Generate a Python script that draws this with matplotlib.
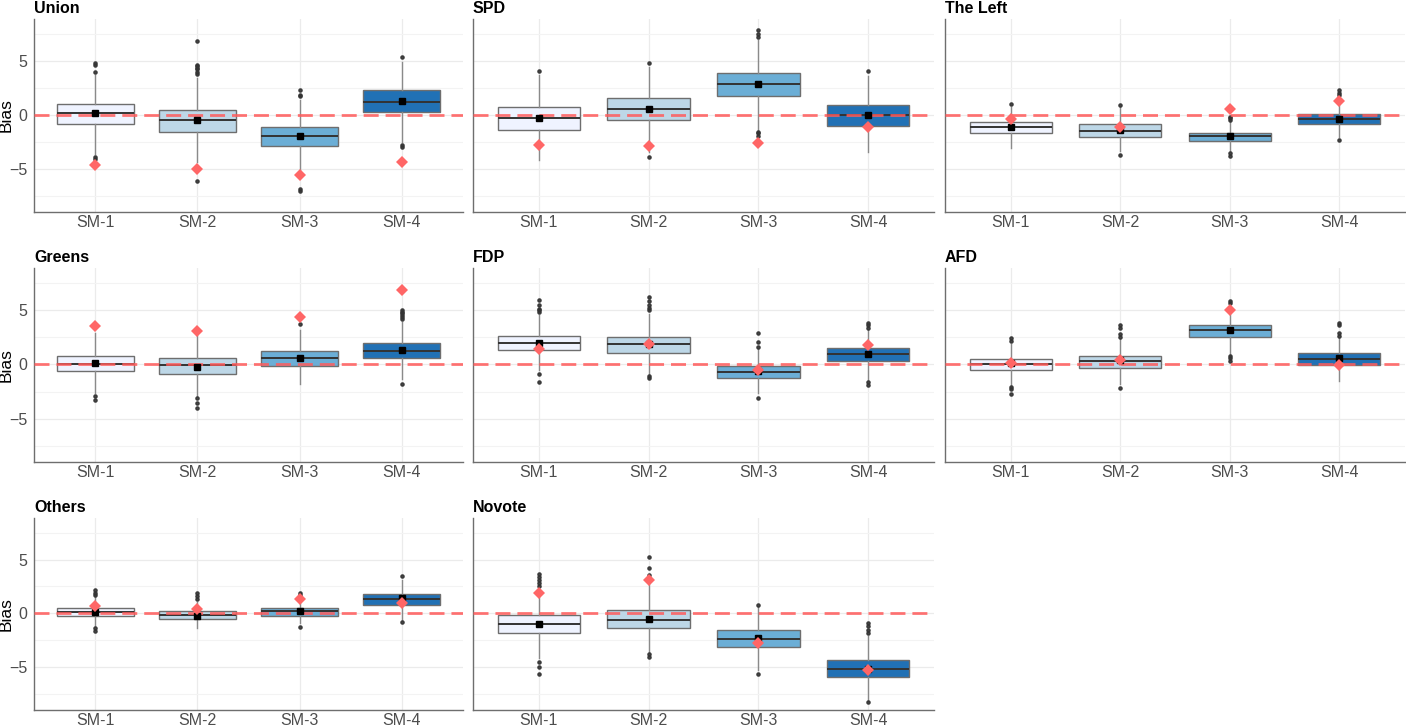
import numpy as np
import matplotlib
matplotlib.use("Agg")
import matplotlib.pyplot as plt

plt.rcParams['font.family'] = ['Liberation Sans', 'DejaVu Sans']

parties = ["Union", "SPD", "The Left", "Greens", "FDP", "AFD", "Others", "Novote"]
models = ["SM-1", "SM-2", "SM-3", "SM-4"]
fills = ["#eff3ff", "#bdd7e7", "#6baed6", "#2171b5"]

# box statistics, one row per party, one column per model
q1 = [[-0.86, -1.59, -2.90, 0.25],
      [-1.40, -0.49, 1.74, -0.98],
      [-1.68, -1.99, -2.42, -0.86],
      [-0.64, -0.86, -0.15, 0.61],
      [1.29, 1.07, -1.23, 0.28],
      [-0.52, -0.31, 2.52, -0.03],
      [-0.22, -0.52, -0.19, 0.80],
      [-1.85, -1.36, -3.12, -5.86]]
med = [[0.15, -0.43, -1.96, 1.16],
       [-0.30, 0.52, 2.90, -0.03],
       [-1.13, -1.44, -1.96, -0.40],
       [0.03, -0.09, 0.61, 1.26],
       [1.93, 1.84, -0.67, 0.92],
       [0.00, 0.31, 3.19, 0.46],
       [0.12, -0.15, 0.19, 1.33],
       [-0.96, -0.62, -2.35, -5.12]]
q3 = [[1.04, 0.43, -1.07, 2.26],
      [0.77, 1.56, 3.91, 0.95],
      [-0.67, -0.86, -1.68, 0.06],
      [0.77, 0.61, 1.20, 1.96],
      [2.60, 2.50, -0.12, 1.50],
      [0.49, 0.80, 3.65, 1.01],
      [0.49, 0.19, 0.49, 1.82],
      [-0.12, 0.31, -1.54, -4.32]]
whis_lo = [[-3.6, -4.3, -5.2, -2.5],
           [-4.2, -3.4, -1.4, -3.46],
           [-3.03, -3.3, -3.3, -2.0],
           [-2.6, -2.9, -1.78, -1.3],
           [-0.5, -0.9, -2.6, -1.4],
           [-1.9, -1.8, 0.9, -1.5],
           [-1.2, -1.39, -0.9, -0.6],
           [-4.1, -3.6, -5.2, -8.1]]
whis_hi = [[3.7, 3.4, 1.4, 4.9],
           [3.7, 4.4, 6.9, 3.6],
           [0.7, 0.75, -0.6, 1.4],
           [2.9, 2.7, 3.16, 3.9],
           [4.5, 4.6, 1.4, 3.2],
           [1.9, 2.3, 5.3, 2.4],
           [1.5, 1.1, 1.5, 3.1],
           [2.3, 3.2, 0.6, -2.1]]
means = [[0.20, -0.49, -1.90, 1.31],
         [-0.25, 0.58, 2.90, 0.03],
         [-1.13, -1.35, -1.96, -0.34],
         [0.09, -0.21, 0.61, 1.32],
         [2.00, 1.90, -0.61, 0.95],
         [0.09, 0.37, 3.16, 0.55],
         [0.15, -0.22, 0.25, 1.42],
         [-0.96, -0.52, -2.25, -5.12]]
observed = [[-4.60, -4.95, -5.50, -4.37],
            [-2.80, -2.90, -2.60, -1.07],
            [-0.34, -1.07, 0.55, 1.28],
            [3.53, 3.04, 4.36, 6.80],
            [1.38, 1.90, -0.55, 1.81],
            [0.15, 0.40, 4.97, -0.03],
            [0.71, 0.37, 1.30, 0.93],
            [1.91, 3.09, -2.72, -5.20]]
outliers = [[[4.8, 4.6, 4.0, -3.85, -4.05],
             [6.85, 4.65, 4.5, 4.35, 4.2, 4.0, 3.8, -6.1],
             [2.3, 1.85, 1.75, -6.8, -7.05],
             [5.3, -2.8, -3.0]],
            [[4.07],
             [4.8, -3.9],
             [7.86, 7.5, 7.2, -1.55, -1.7, -1.9],
             [4.04]],
            [[0.98],
             [0.89, -3.7],
             [-0.15, -0.3, -0.46, -3.55, -3.75],
             [2.3, 2.05, 1.8, -2.3]],
            [[-2.85, -3.3],
             [-3.1, -3.5, -4.0],
             [3.74],
             [5.0, 4.85, 4.7, 4.55, 4.4, 4.2, -1.75]],
            [[5.95, 5.5, 5.12, 4.97, 4.8, -0.83, -1.63],
             [6.2, 5.83, 5.46, 5.2, 5.0, -1.1, -1.25],
             [2.9, 2.1, 1.63, -3.07],
             [3.77, 3.6, 3.35, -1.6, -1.9]],
            [[2.42, 2.18, -2.05, -2.24, -2.67],
             [3.59, 3.3, 2.8, 2.55, -2.15],
             [5.83, 5.6, 0.8, 0.55, 0.28],
             [3.83, 3.6, 2.9, 2.6]],
            [[2.16, 1.9, 1.7, -1.39, -1.6],
             [1.9, 1.6, 1.36],
             [1.9, 1.73, -1.23],
             [3.49, -0.83]],
            [[3.64, 3.4, 3.1, 2.8, 2.5, -4.48, -4.94, -5.62],
             [5.25, 4.23, 3.55, -3.8, -4.07],
             [0.83, -5.62],
             [-0.93, -1.2, -1.5, -1.85, -8.2]]]

W, H = 1406, 728
fig = plt.figure(figsize=(W / 100, H / 100), dpi=100)

cols = [(34, 463), (473, 934), (945, 1405)]
rows = [(19, 212), (268, 462), (518, 710)]

pos = np.arange(1, 5)

for k, party in enumerate(parties):
    r, c = divmod(k, 3)
    x0, x1 = cols[c]
    y0, y1 = rows[r]
    ax = fig.add_axes([x0 / W, 1 - y1 / H, (x1 - x0) / W, (y1 - y0) / H])

    stats = []
    for j in range(4):
        stats.append(dict(med=med[k][j], q1=q1[k][j], q3=q3[k][j],
                          whislo=whis_lo[k][j], whishi=whis_hi[k][j],
                          fliers=outliers[k][j], label=models[j]))
    bp = ax.bxp(stats, positions=pos, widths=0.75, patch_artist=True,
                showfliers=True,
                boxprops=dict(edgecolor="#6e6e6e", linewidth=1.0),
                whiskerprops=dict(color="#8a8a8a", linewidth=1.0),
                capprops=dict(linewidth=0),
                medianprops=dict(color="#333333", linewidth=1.4),
                flierprops=dict(marker="o", markersize=2.3, markerfacecolor="#333333",
                                markeredgecolor="#333333", alpha=0.9))
    for patch, col in zip(bp["boxes"], fills):
        patch.set_facecolor(col)
        patch.set_zorder(2)

    ax.axhline(0, color="#ff5c5c", lw=2.0, alpha=0.85, dashes=(5.4, 2.5), zorder=3)
    ax.plot(pos, means[k], ls="none", marker="s", markersize=4, color="black", zorder=4)
    ax.plot(pos, observed[k], ls="none", marker="D", markersize=6,
            color="#ff6666", markeredgewidth=0, zorder=5)

    ax.set_xlim(0.4, 4.6)
    ax.set_ylim(-8.95, 8.85)
    ax.set_xticks(pos)
    ax.set_xticklabels(models)
    ax.set_yticks([-5, 0, 5])
    ax.set_yticks([-7.5, -2.5, 2.5, 7.5], minor=True)
    ax.grid(True, which="major", color="#ebebeb", lw=0.9, zorder=0)
    ax.grid(True, which="minor", axis="y", color="#f3f3f3", lw=0.8, zorder=0)
    ax.set_axisbelow(True)
    ax.tick_params(which="both", length=0)
    ax.tick_params(axis="x", pad=2, labelsize=11.5, labelcolor="#4d4d4d")
    ax.tick_params(axis="y", pad=5, labelsize=11.5, labelcolor="#4d4d4d")
    for s in ["top", "right"]:
        ax.spines[s].set_visible(False)
    for s in ["left", "bottom"]:
        ax.spines[s].set_color("#6e6e6e")
        ax.spines[s].set_linewidth(1.0)
    if c == 0:
        ax.set_ylabel("Bias", fontsize=12.5)
        ax.yaxis.set_label_coords(-0.047, 0.5)
    else:
        ax.set_yticklabels([])
    ax.set_title(party, loc="left", fontsize=11.5, fontweight="bold", pad=4)

fig.savefig("out.png", dpi=100)
